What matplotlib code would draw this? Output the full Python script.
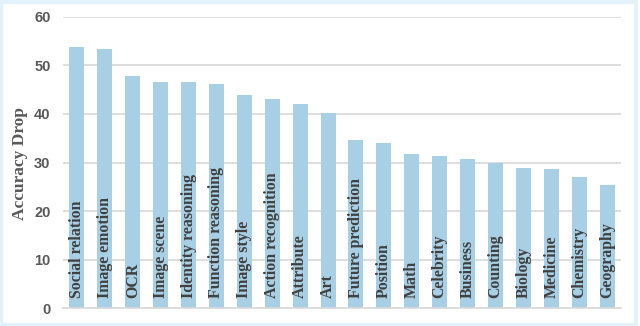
import matplotlib
matplotlib.use("Agg")
import matplotlib.pyplot as plt
from matplotlib.patches import Rectangle

categories = ["Social relation", "Image emotion", "OCR", "Image scene", "Identity reasoning",
              "Function reasoning", "Image style", "Action recognition", "Attribute", "Art",
              "Future prediction", "Position", "Math", "Celebrity", "Business", "Counting",
              "Biology", "Medicine", "Chemistry", "Geography"]
values = [53.7, 53.4, 47.8, 46.5, 46.5, 46.2, 43.9, 43.0, 42.1, 40.1,
          34.6, 34.0, 31.8, 31.3, 30.7, 30.0, 28.9, 28.7, 27.1, 25.4]
yticks = [0, 10, 20, 30, 40, 50, 60]

fig = plt.figure(figsize=(6.4, 3.26), dpi=100)
ax = fig.add_axes([63/640, 1 - 308.3/326, (621-63)/640, (308.3-16.7)/326])

x = list(range(len(categories)))
ax.bar(x, values, width=0.54, color="#a9cfe4", zorder=2)
ax.set_xlim(-0.5, len(categories) - 0.5)
ax.set_ylim(0, 60)
ax.set_yticks(yticks)
ax.set_xticks([])
ax.grid(axis="y", color="#d9d9d9", linewidth=1.2, zorder=0)
for s in ["top", "right", "left"]:
    ax.spines[s].set_visible(False)
ax.spines["bottom"].set_color("#d9d9d9")
ax.spines["bottom"].set_linewidth(1.2)
ax.tick_params(axis="y", length=0, pad=9, labelsize=10.5, labelcolor="#595959")
for lab in ax.get_yticklabels():
    lab.set_fontfamily("Liberation Sans")
    lab.set_fontweight("bold")

ax.set_ylabel("Accuracy Drop", fontfamily="Liberation Serif", fontweight="bold",
              fontsize=12.5, color="#595959")
ax.yaxis.set_label_coords(-0.062, 0.495)

for xi, cat in zip(x, categories):
    ax.text(xi, 2.2, cat, rotation=90, ha="center", va="bottom",
            fontfamily="Liberation Serif", fontweight="bold", fontsize=11.4,
            color="#404040", zorder=3)

fig.patches.append(Rectangle((0.002, 0.004), 0.991, 0.99, transform=fig.transFigure,
                             fill=False, edgecolor="#e3f1fa", linewidth=3))
fig.savefig("out.png", dpi=100)
